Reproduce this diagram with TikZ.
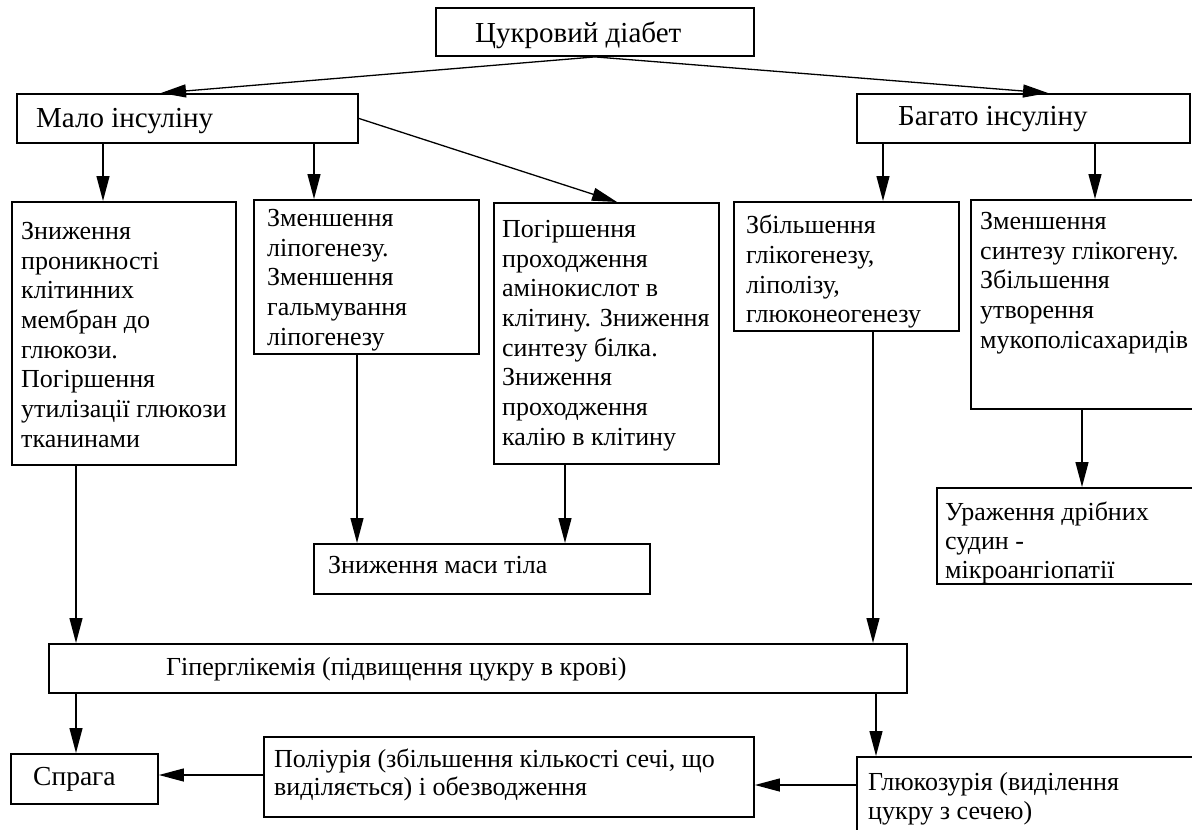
\documentclass[tikz,border=0pt]{standalone}
\usepackage{fontspec}
\setmainfont{Liberation Serif}
\usetikzlibrary{arrows.meta}
\begin{document}
\begin{tikzpicture}[x=1pt,y=-1pt,
        box/.style={draw, line width=1.9pt, anchor=north west, inner sep=0pt},
        txt/.style={anchor=north west, align=left, inner sep=0pt, font=\fontsize{26pt}{29.7pt}\selectfont},
        oneline/.style={anchor=base west, inner sep=0pt, font=\fontsize{26pt}{29.7pt}\selectfont},
        head/.style={anchor=base west, inner sep=0pt, font=\fontsize{29pt}{32pt}\selectfont},
        arr/.style={-{Triangle[length=25pt,width=13pt]}, line width=1.3pt}]
                \useasboundingbox (0,0) rectangle (1192,830);
                \node[box, minimum width=318pt, minimum height=48pt] (diab) at (435,7) {};
                \node[box, minimum width=341pt, minimum height=49pt] (malo) at (16,93) {};
                \node[box, minimum width=333pt, minimum height=49pt] (bag) at (856,93) {};
                \node[box, minimum width=224pt, minimum height=263pt] (b1) at (11,201) {};
                \node[box, minimum width=225pt, minimum height=154pt] (b2) at (253,199) {};
                \node[box, minimum width=225pt, minimum height=261pt] (b3) at (493,202) {};
                \node[box, minimum width=225pt, minimum height=129pt] (b4) at (733,201) {};
                \node[box, minimum width=240pt, minimum height=209pt] (b5) at (970,199) {};
                \node[box, minimum width=274pt, minimum height=96pt] (b6) at (936,487) {};
                \node[box, minimum width=336pt, minimum height=50pt] (mass) at (313,543) {};
                \node[box, minimum width=858pt, minimum height=49pt] (hyper) at (48,643) {};
                \node[box, minimum width=147pt, minimum height=50pt] (spr) at (10,753) {};
                \node[box, minimum width=490pt, minimum height=80pt] (pol) at (263,736) {};
                \node[box, minimum width=354pt, minimum height=100pt] (glu) at (856,756) {};
                \node[head] (tdiab) at (475,42) {Цукровий діабет};
                \node[head] (tmalo) at (36,127) {Мало інсуліну};
                \node[head] (tbag) at (898,125) {Багато інсуліну};
                \node[txt] (t1) at (21,222) {Зниження\\проникності\\клітинних\\мембран до\\глюкози.\\Погіршення\\утилізації глюкози\\тканинами};
                \node[txt] (t2) at (267,209) {Зменшення\\ліпогенезу.\\Зменшення\\гальмування\\ліпогенезу};
                \node[txt] (t3) at (502,220) {Погіршення\\проходження\\амінокислот в\\клітину. Зниження\\синтезу білка.\\Зниження\\проходження\\калію в клітину};
                \node[txt] (t4) at (746,215) {Збільшення\\глікогенезу,\\ліполізу,\\глюконеогенезу};
                \node[txt] (t5) at (980,212) {Зменшення\\синтезу глікогену.\\Збільшення\\утворення\\мукополісахаридів};
                \node[txt, font=\fontsize{26pt}{29pt}\selectfont] (t6) at (945,502) {Ураження дрібних\\судин -\\мікроангіопатії};
                \node[oneline] (tmass) at (328,573) {Зниження маси тіла};
                \node[oneline] (thyper) at (166,675) {Гіперглікемія (підвищення цукру в крові)};
                \node[oneline, font=\fontsize{27.5pt}{30pt}\selectfont] (tspr) at (33,785) {Спрага};
                \node[txt, font=\fontsize{26pt}{28pt}\selectfont] (tpol) at (274,749) {Поліурія (збільшення кількості сечі, що\\виділяється) і обезводження};
                \node[txt] (tglu) at (868,772) {Глюкозурія (виділення\\цукру з сечею)};
                \coordinate (k1) at (103,0);
                \coordinate (k2) at (314,0);
                \coordinate (k3) at (883,0);
                \coordinate (k4) at (1095,0);
                \coordinate (k5) at (1082,0);
                \coordinate (k6) at (357,0);
                \coordinate (k7) at (565,0);
                \coordinate (k8) at (76,0);
                \coordinate (k9) at (873,0);
                \coordinate (k10) at (876,0);
                \coordinate (k11) at (617,0);
                \coordinate (k12) at (161,0);
                \coordinate (k13) at (1048,0);
                \coordinate (h1) at (0,785);
                \coordinate (h2) at (0,775);
                \draw[arr] (diab.south) -- (k12 |- malo.north);
                \draw[arr] (diab.south) -- (k13 |- bag.north);
                \draw[arr] (k1 |- malo.south) -- (k1 |- b1.north);
                \draw[arr] (k2 |- malo.south) -- (k2 |- b2.north);
                \draw[arr] (malo.east) -- (k11 |- b3.north);
                \draw[arr] (k3 |- bag.south) -- (k3 |- b4.north);
                \draw[arr] (k4 |- bag.south) -- (k4 |- b5.north);
                \draw[arr] (k5 |- b5.south) -- (k5 |- b6.north);
                \draw[arr] (k6 |- b2.south) -- (k6 |- mass.north);
                \draw[arr] (k7 |- b3.south) -- (k7 |- mass.north);
                \draw[arr] (k8 |- b1.south) -- (k8 |- hyper.north);
                \draw[arr] (k9 |- b4.south) -- (k9 |- hyper.north);
                \draw[arr] (k8 |- hyper.south) -- (k8 |- spr.north);
                \draw[arr] (k10 |- hyper.south) -- (k10 |- glu.north);
                \draw[arr] (h1 -| glu.west) -- (h1 -| pol.east);
                \draw[arr] (h2 -| pol.west) -- (h2 -| spr.east);
\end{tikzpicture}
\end{document}
